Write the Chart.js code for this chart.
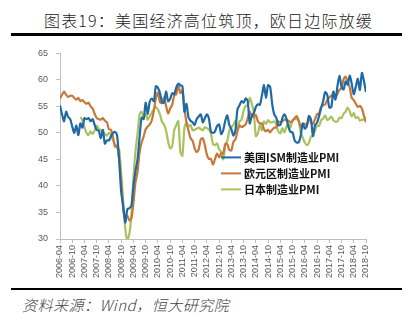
<!DOCTYPE html>
<html lang="zh">
<head>
<meta charset="UTF-8">
<title>美国经济高位筑顶，欧日边际放缓</title>
<script src="https://cdn.jsdelivr.net/npm/chart.js"></script>
<style>
  html, body { margin: 0; padding: 0; background: #fff; }
  body { width: 417px; height: 322px; position: relative; overflow: hidden; }
  #title { position: absolute; left: 0; top: 9px; width: 417px; text-align: center;
           font: 300 16px/22px "Noto Sans CJK SC", sans-serif; color: #222; letter-spacing: 1.2px; }
  .rule { position: absolute; left: 11px; width: 391px; background: #000; }
  #src { position: absolute; left: 22px; top: 296px; font: italic 300 15px/18px "Noto Sans CJK SC", sans-serif;
         color: #444; letter-spacing: 0.5px; }
  #wrap { position: absolute; left: 0; top: 40px; width: 417px; height: 248px; }
</style>
</head>
<body>
<div id="title">图表19：美国经济高位筑顶，欧日边际放缓</div>
<div class="rule" style="top:33px;height:3px"></div>
<div id="wrap"><canvas id="myChart"></canvas></div>
<div class="rule" style="top:288px;height:2px"></div>
<div id="src">资料来源：Wind，恒大研究院</div>

<script>
  // monthly, 2006-04 .. 2018-10
  const startYear = 2006, startMonth = 4, nMonths = 151;
  const months = [];
  for (let i = 0; i < nMonths; i++) {
    const m = startMonth - 1 + i;
    months.push((startYear + Math.floor(m / 12)) + '-' + String(m % 12 + 1).padStart(2, '0'));
  }

  const seriesNames = ['美国ISM制造业PMI', '欧元区制造业PMI', '日本制造业PMI'];
  const seriesColors = ['#1f6aa5', '#c8773a', '#a8c25e'];

  const usPMI = [
    55.2, 53.5, 52.2, 54.0, 53.0, 52.6, 51.2, 50.0, 51.4,
    49.6, 51.8, 51.0, 52.8, 52.6, 52.8, 52.2, 52.6, 51.5, 50.6, 50.4, 49.0,
    50.6, 48.0, 48.6, 48.6, 49.4, 50.0, 50.2, 49.5, 44.8, 38.9, 36.2, 33.1,
    35.6, 35.8, 36.3, 40.1, 42.8, 45.0, 49.1, 52.9, 52.6, 55.7, 53.6, 55.9,
    56.5, 56.0, 58.8, 58.5, 57.5, 55.8, 55.7, 57.8, 56.0, 56.4, 57.5, 57.3,
    58.6, 59.3, 59.0, 58.8, 54.0, 55.5, 52.9, 52.3, 52.0, 51.5, 52.6, 53.1,
    53.5, 52.0, 52.8, 53.5, 52.7, 50.2, 50.0, 50.3, 51.3, 51.6, 49.8, 50.5,
    52.3, 53.3, 51.5, 50.7, 49.5, 50.5, 54.5, 55.2, 56.0, 55.7, 56.5, 56.0,
    51.8, 53.2, 53.7, 54.9, 55.4, 55.3, 57.1, 59.0, 56.6, 59.0, 58.7, 55.5,
    53.5, 52.9, 51.5, 51.5, 52.8, 53.5, 52.7, 51.1, 50.2, 50.1, 48.6, 48.2,
    48.2, 49.5, 51.8, 50.8, 51.3, 53.2, 52.6, 49.4, 51.5, 51.9, 53.2, 54.7,
    56.0, 57.7, 57.2, 54.8, 54.9, 57.8, 56.3, 58.8, 60.8, 58.7, 58.2, 59.7,
    59.1, 60.8, 59.3, 57.3, 58.7, 60.2, 58.1, 61.3, 59.8, 57.7
  ];

  const euroPMI = [
    56.5, 57.2, 57.8, 57.2, 56.8, 57.0, 57.0, 56.6, 56.3,
    56.6, 56.0, 56.2, 55.8, 55.5, 55.7, 55.0, 54.6, 53.6, 52.8, 52.6, 52.5,
    52.8, 52.3, 52.0, 50.7, 50.6, 49.2, 47.4, 47.6, 45.0, 41.1, 35.6, 33.9,
    34.4, 33.5, 33.9, 36.8, 40.7, 42.6, 46.3, 48.2, 49.3, 50.7, 51.2, 51.6,
    52.4, 54.2, 56.6, 57.6, 55.8, 55.6, 56.7, 55.1, 53.7, 54.6, 55.3, 57.1,
    57.3, 59.0, 57.5, 58.0, 54.6, 52.0, 50.4, 49.0, 48.5, 47.1, 46.4, 46.9,
    48.8, 49.0, 47.7, 45.9, 45.1, 45.1, 44.0, 45.1, 46.1, 45.4, 46.2, 46.1,
    47.9, 47.9, 46.8, 46.7, 48.3, 48.8, 50.3, 51.4, 51.1, 51.3, 51.6, 52.7,
    54.0, 53.2, 53.0, 53.4, 52.2, 51.8, 51.8, 50.7, 50.3, 50.6, 50.1, 50.6,
    51.0, 51.0, 52.2, 52.0, 52.2, 52.5, 52.4, 52.3, 52.0, 52.3, 52.8, 53.2,
    52.3, 51.2, 51.6, 51.7, 51.5, 52.8, 52.0, 51.7, 52.6, 53.5, 53.7, 54.9,
    55.2, 55.4, 56.2, 56.7, 57.0, 57.4, 56.6, 57.4, 58.1, 58.5, 60.1, 60.6,
    59.6, 58.6, 56.6, 56.2, 55.5, 54.9, 55.1, 54.6, 53.2, 52.0
  ];

  const japanPMI = [
    null, null, null, null, null, null, null, null, null,
    null, 53.0, 52.4, 51.0, 50.0, 49.6, 50.3, 49.8, 50.5, 51.4, 50.8, 50.5,
    50.2, 49.8, 49.5, 50.0, 49.6, 48.6, 47.8, 47.2, 46.9, 42.2, 36.8, 32.0,
    29.8, 31.0, 34.5, 41.4, 46.6, 49.8, 53.5, 54.0, 52.9, 53.6, 52.5, 53.2,
    53.8, 54.5, 54.9, 54.4, 53.5, 52.1, 51.6, 50.4, 48.4, 47.1, 47.5, 50.5,
    51.5, 52.2, 46.4, 45.7, 51.0, 52.0, 51.2, 51.5, 50.5, 50.6, 50.8, 51.0,
    50.7, 50.5, 51.1, 50.9, 50.7, 49.9, 47.9, 47.7, 48.0, 46.9, 46.5, 45.0,
    47.7, 48.5, 50.4, 51.1, 51.5, 52.3, 50.7, 52.2, 52.5, 54.2, 55.1, 55.2,
    56.6, 55.5, 53.9, 49.4, 49.9, 51.5, 50.5, 52.2, 51.7, 52.4, 52.0, 52.0,
    52.2, 51.6, 50.3, 49.9, 50.9, 50.1, 51.2, 51.7, 51.0, 52.4, 52.6, 52.6,
    52.3, 50.1, 49.1, 48.2, 47.7, 48.1, 49.3, 49.5, 50.4, 51.4, 51.3, 52.4,
    52.7, 53.3, 52.4, 52.7, 53.1, 52.4, 52.1, 52.2, 52.9, 52.8, 53.6, 54.0,
    54.8, 54.1, 53.1, 53.8, 52.8, 53.0, 52.3, 52.5, 52.5, 52.9
  ];

  const yMin = 30, yMax = 65, yStep = 5;
  const xTickEvery = 6;

  const toPoints = arr => arr.map((v, i) => ({ x: i, y: v }));
  const allSeries = [usPMI, euroPMI, japanPMI];

  // legend drawn inside the plot area, lower right
  const innerLegend = {
    id: 'innerLegend',
    afterDatasetsDraw(chart) {
      const { ctx, chartArea } = chart;
      const x0 = chartArea.left + 161, y0 = chartArea.top + 104, rowH = 16;
      ctx.save();
      ctx.font = 'bold 11px "Noto Sans CJK SC", sans-serif';
      ctx.letterSpacing = '0px';
      ctx.textBaseline = 'middle';
      chart.data.datasets.forEach((ds, i) => {
        const y = y0 + i * rowH;
        ctx.strokeStyle = ds.borderColor;
        ctx.lineWidth = 2;
        ctx.beginPath();
        ctx.moveTo(x0, y);
        ctx.lineTo(x0 + 20, y);
        ctx.stroke();
        ctx.fillStyle = '#111';
        ctx.fillText(ds.label, x0 + 23, y + 0.5);
      });
      ctx.restore();
    }
  };

  const ctx = document.getElementById('myChart').getContext('2d');
  const chart = new Chart(ctx, {
    type: 'line',
    data: {
      datasets: allSeries.map((arr, i) => ({
        label: seriesNames[i],
        data: toPoints(arr),
        borderColor: seriesColors[i],
        backgroundColor: seriesColors[i],
        borderWidth: 2.2,
        pointRadius: 0,
        tension: 0.25,
        spanGaps: false
      }))
    },
    options: {
      responsive: true,
      maintainAspectRatio: false,
      animation: false,
      layout: { padding: { top: 8, right: 51, left: 0, bottom: 0 } },
      plugins: {
        legend: { display: false },
        tooltip: { enabled: false }
      },
      scales: {
        x: {
          type: 'linear',
          min: 0,
          max: nMonths - 1,
          afterFit(scale) { scale.height = 49; },
          grid: { drawOnChartArea: false, drawTicks: true, tickLength: 4, color: '#bfbfbf' },
          border: { color: '#bfbfbf' },
          ticks: {
            stepSize: xTickEvery,
            autoSkip: false,
            maxRotation: 90,
            minRotation: 90,
            padding: 2,
            color: '#595959',
            font: { family: '"Liberation Sans", sans-serif', size: 9 },
            callback: v => months[v]
          }
        },
        y: {
          min: yMin,
          max: yMax,
          afterFit(scale) { scale.width = 60; },
          grid: { drawOnChartArea: false, drawTicks: true, tickLength: 4, color: '#bfbfbf' },
          border: { color: '#bfbfbf' },
          ticks: {
            stepSize: yStep,
            padding: 8,
            color: '#595959',
            font: { family: '"Liberation Sans", sans-serif', size: 9 }
          }
        }
      }
    },
    plugins: [innerLegend]
  });
</script>
</body>
</html>
